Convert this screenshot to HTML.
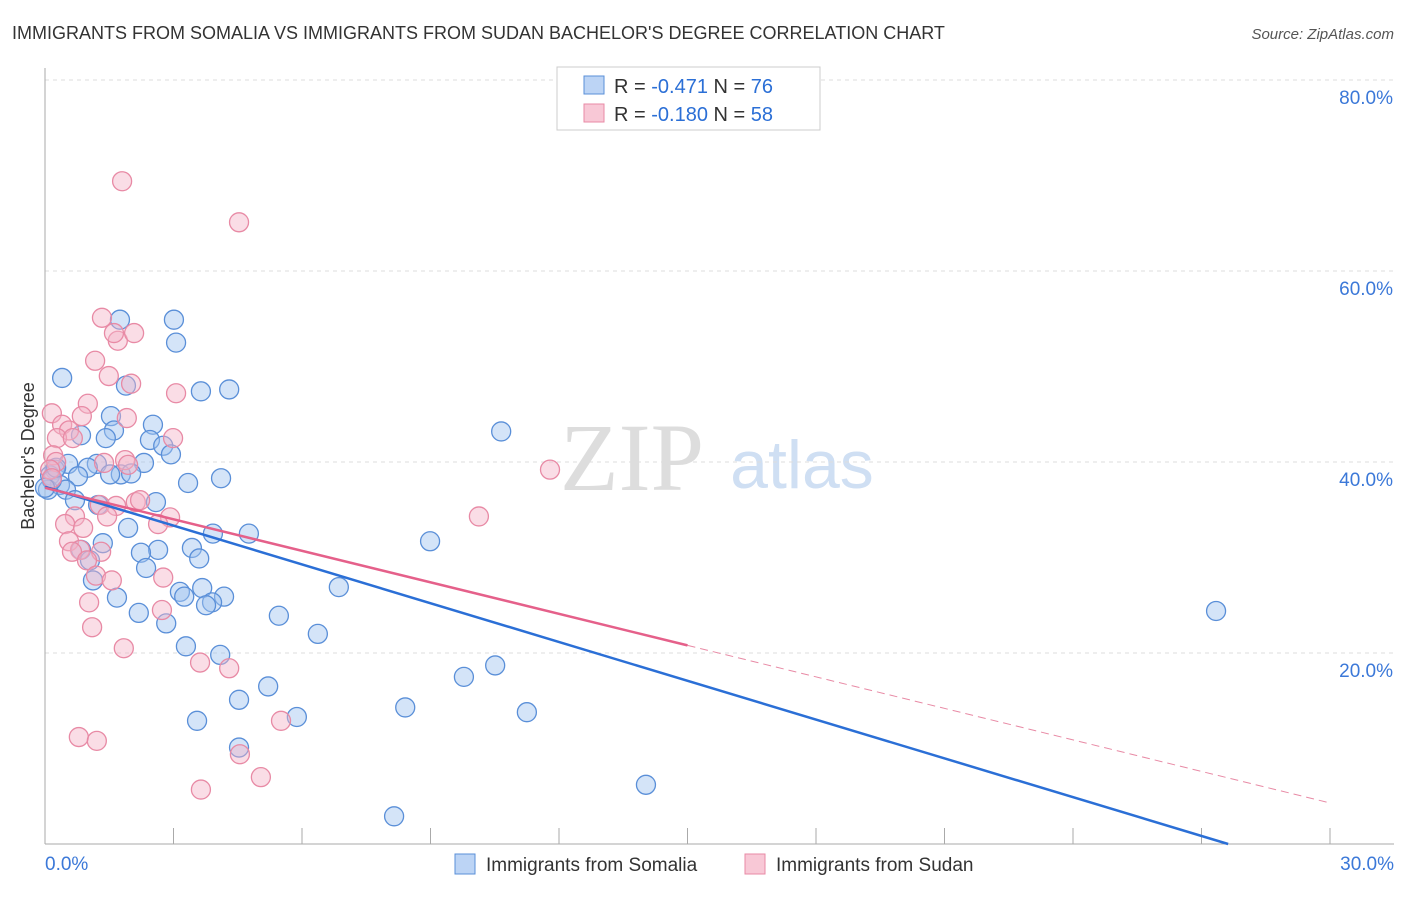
<!DOCTYPE html>
<html><head><meta charset="utf-8"><style>
body{margin:0;background:#fff;font-family:"Liberation Sans",sans-serif}
</style></head><body>
<svg id="chart" width="1406" height="892" viewBox="0 0 1406 892" xmlns="http://www.w3.org/2000/svg">
<text x="12" y="39" font-size="18" fill="#333">IMMIGRANTS FROM SOMALIA VS IMMIGRANTS FROM SUDAN BACHELOR'S DEGREE CORRELATION CHART</text>
<text x="1394" y="39" font-size="15" fill="#555" text-anchor="end" font-style="italic">Source: ZipAtlas.com</text>
<g>
<text x="632" y="490" font-size="96" fill="#ddd" text-anchor="middle" font-family="Liberation Serif,serif">ZIP</text>
<text x="802" y="488" font-size="68" fill="#cfdff3" text-anchor="middle">atlas</text>
</g>
<g id="grid"></g>
<g id="axes"></g>
<g id="marks"></g>
<g>
<rect x="557" y="67" width="263" height="63" fill="#fff" stroke="#ccc"/>
<rect x="584" y="76" width="20" height="18" fill="#bcd4f5" stroke="#5a8fd8"/>
<text x="614" y="93" font-size="20" fill="#333">R = <tspan fill="#2b6fd6">-0.471</tspan>   N = <tspan fill="#2b6fd6">76</tspan></text>
<rect x="584" y="104" width="20" height="18" fill="#f8c8d6" stroke="#e88aa5"/>
<text x="614" y="121" font-size="20" fill="#333">R = <tspan fill="#2b6fd6">-0.180</tspan>   N = <tspan fill="#2b6fd6">58</tspan></text>
</g>
<g>
<rect x="455" y="854" width="20" height="20" fill="#bcd4f5" stroke="#5a8fd8"/>
<text x="486" y="871" font-size="19" fill="#333">Immigrants from Somalia</text>
<rect x="745" y="854" width="20" height="20" fill="#f8c8d6" stroke="#e88aa5"/>
<text x="776" y="871" font-size="19" fill="#333">Immigrants from Sudan</text>
</g>
<text transform="translate(34,456) rotate(-90)" font-size="18" fill="#333" text-anchor="middle">Bachelor's Degree</text>
</svg>
<script>
const somaliaX=[0.40,1.75,3.01,3.06,1.89,3.64,4.30,1.54,2.52,1.61,0.84,1.42,2.45,2.76,2.94,2.31,1.21,0.54,1.00,0.77,1.77,2.01,4.11,3.34,0.23,0.12,0.35,0.49,0.70,1.24,2.59,1.94,3.92,4.76,1.35,0.84,2.64,3.43,2.24,3.60,1.05,2.36,1.12,3.15,3.25,3.67,4.18,3.90,3.76,1.68,2.19,2.83,5.46,6.86,6.37,3.29,4.09,8.99,10.65,5.21,4.53,5.88,3.55,4.53,8.41,9.78,10.51,11.25,14.03,8.15,27.34,0.07,0.16,0.0,0.26,1.52];
const somaliaY=[48.8,54.9,54.9,52.5,48.0,47.4,47.6,44.8,43.9,43.3,42.8,42.5,42.3,41.7,40.8,39.9,39.8,39.8,39.4,38.5,38.7,38.8,38.3,37.8,39.2,38.6,37.6,37.1,36.0,35.5,35.8,33.1,32.5,32.5,31.5,30.8,30.8,31.0,30.5,29.9,29.7,28.9,27.6,26.4,25.9,26.8,25.9,25.3,25.0,25.8,24.2,23.1,23.9,26.9,22.0,20.7,19.8,31.7,43.2,16.5,15.1,13.3,12.9,10.1,14.3,17.5,18.7,13.8,6.2,2.9,24.4,37.1,38.1,37.3,39.4,38.7];
const sudanX=[1.80,4.53,1.33,1.70,2.08,1.61,1.17,1.49,2.01,3.06,1.00,0.16,0.86,0.40,0.56,0.28,0.65,1.91,2.99,0.19,0.26,1.38,1.87,1.94,0.12,0.16,1.28,1.66,2.12,2.22,2.92,0.70,1.45,2.64,0.47,0.89,0.56,0.82,0.63,1.31,0.98,1.19,1.56,2.76,2.73,1.03,1.10,1.84,3.62,4.30,5.51,0.79,1.21,4.55,5.04,3.64,11.79,10.13];
const sudanY=[69.4,65.1,55.1,52.7,53.5,53.5,50.6,49.0,48.2,47.2,46.1,45.1,44.8,43.9,43.3,42.5,42.5,44.6,42.5,40.7,40.0,39.9,40.2,39.7,39.2,38.3,35.5,35.4,35.8,36.0,34.2,34.3,34.3,33.5,33.5,33.1,31.7,30.8,30.6,30.6,29.7,28.1,27.6,27.9,24.5,25.3,22.7,20.5,19.0,18.4,12.9,11.2,10.8,9.4,7.0,5.7,39.2,34.3];
const yTicks=[20,40,60,80];
const xTickLabels=["0.0%","30.0%"];
const somaliaTrend=[37.4,-1.354];
const sudanTrend=[37.3,-1.1];
const sudanSolidEnd=15;

const NS="http://www.w3.org/2000/svg";
const X0=45,X1=1330,Y0=844,YTOP=80;
const xs=v=>X0+(v/30)*(X1-X0);
const ys=v=>Y0-(v/80)*(Y0-YTOP);
function mk(t,a,p){const e=document.createElementNS(NS,t);for(const k in a)e.setAttribute(k,a[k]);p.appendChild(e);return e;}
const grid=document.getElementById('grid'),axes=document.getElementById('axes'),marks=document.getElementById('marks');
yTicks.forEach(t=>{
 const l=mk('line',{x1:X0,x2:1394,y1:ys(t),y2:ys(t),stroke:'#ddd','stroke-dasharray':'4,4'},grid);
 
 
 const tx=mk('text',{x:1393,y:ys(t)+24,'font-size':19,fill:'#3b78d8','text-anchor':'end'},axes);
 tx.textContent=t.toFixed(1)+'%';
 
 
});
const yl=mk('line',{x1:X0,x2:X0,y1:68,y2:Y0,stroke:'#aaa'},axes);


const xl=mk('line',{x1:X0,x2:1394,y1:Y0,y2:Y0,stroke:'#aaa'},axes);


for(let i=1;i<=10;i++){
 const tk=mk('line',{x1:xs(i*3),x2:xs(i*3),y1:828,y2:Y0,stroke:'#aaa'},axes);
 
 
}
const xa=mk('text',{x:45,y:870,'font-size':19,fill:'#3b78d8'},axes);xa.textContent=xTickLabels[0];


const xb=mk('text',{x:1394,y:870,'font-size':19,fill:'#3b78d8','text-anchor':'end'},axes);xb.textContent=xTickLabels[1];



somaliaX.forEach((x,i)=>{
 const c=mk('circle',{cx:xs(x),cy:ys(somaliaY[i]),r:9.5,fill:'rgba(160,195,240,0.45)',stroke:'#5a8fd8','stroke-width':1.3},marks);
 
 
});
sudanX.forEach((x,i)=>{
 const c=mk('circle',{cx:xs(x),cy:ys(sudanY[i]),r:9.5,fill:'rgba(245,180,200,0.45)',stroke:'#e88aa5','stroke-width':1.3},marks);
 
 
});
const bx1=-somaliaTrend[0]/somaliaTrend[1];
const bl=mk('line',{x1:xs(0),y1:ys(somaliaTrend[0]),x2:xs(bx1),y2:ys(0),stroke:'#2b6fd6','stroke-width':2.5},marks);


const py=x=>sudanTrend[0]+sudanTrend[1]*x;
const pl=mk('line',{x1:xs(0),y1:ys(py(0)),x2:xs(sudanSolidEnd),y2:ys(py(sudanSolidEnd)),stroke:'#e5608a','stroke-width':2.5},marks);


const pd=mk('line',{x1:xs(sudanSolidEnd),y1:ys(py(sudanSolidEnd)),x2:xs(30),y2:ys(py(30)),stroke:'#e88aa5','stroke-width':1,'stroke-dasharray':'8,5'},marks);


</script>
</body></html>
